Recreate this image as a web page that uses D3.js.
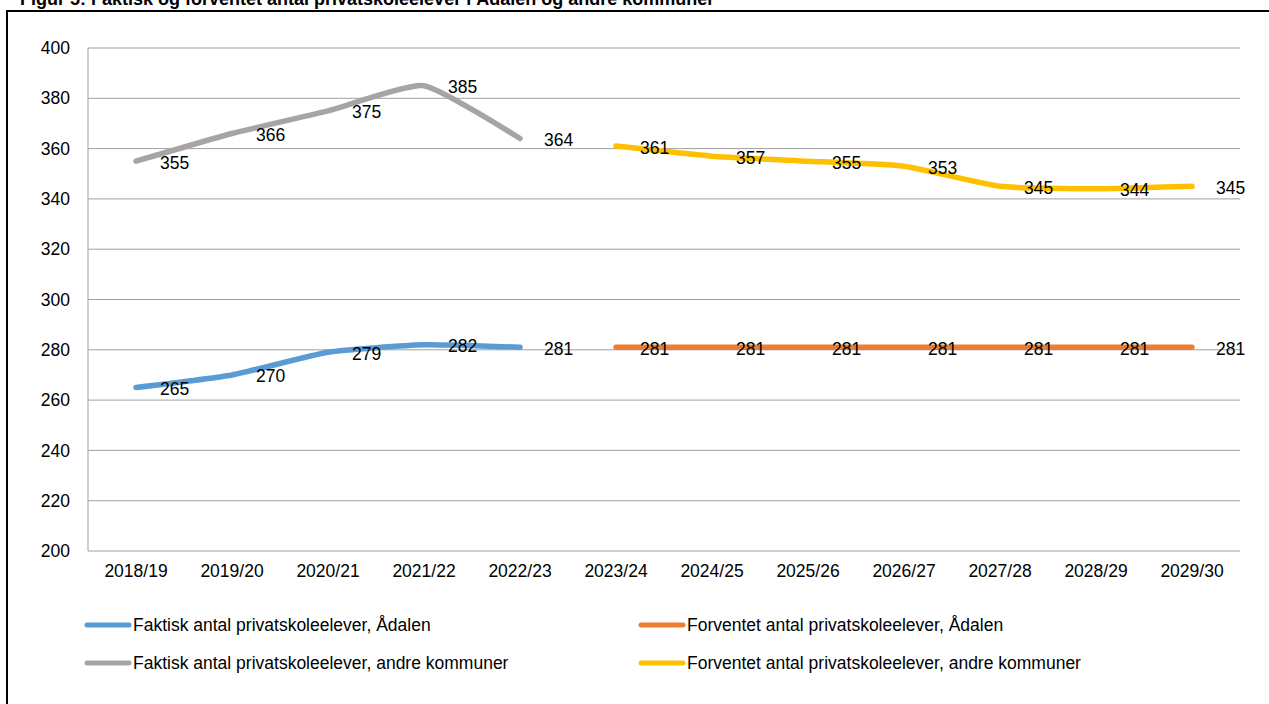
<!DOCTYPE html>
<html>
<head>
<meta charset="utf-8">
<script src="https://cdn.jsdelivr.net/npm/d3@7"></script>
<style>
  html, body { margin: 0; padding: 0; background: #fff; }
  svg { display: block; font-family: "Liberation Sans", Arial, sans-serif; }
</style>
</head>
<body>
<svg id="chart" width="1269" height="704"></svg>
<script>
const title = "Figur 5: Faktisk og forventet antal privatskoleelever i Ådalen og andre kommuner";
const categories = ["2018/19","2019/20","2020/21","2021/22","2022/23","2023/24","2024/25","2025/26","2026/27","2027/28","2028/29","2029/30"];
const yTicks = [200,220,240,260,280,300,320,340,360,380,400];
const faktiskAadalen = [265,270,279,282,281,null,null,null,null,null,null,null];
const forventetAadalen = [null,null,null,null,null,281,281,281,281,281,281,281];
const faktiskAndre = [355,366,375,385,364,null,null,null,null,null,null,null];
const forventetAndre = [null,null,null,null,null,361,357,355,353,345,344,345];
const series = [
  {name:"Faktisk antal privatskoleelever, Ådalen", values: faktiskAadalen, color:"#5b9bd5", smooth:true},
  {name:"Forventet antal privatskoleelever, Ådalen", values: forventetAadalen, color:"#ed7d31", smooth:false},
  {name:"Faktisk antal privatskoleelever, andre kommuner", values: faktiskAndre, color:"#a5a5a5", smooth:true},
  {name:"Forventet antal privatskoleelever, andre kommuner", values: forventetAndre, color:"#ffc000", smooth:true}
];

const FS = 17.5;
const svg = d3.select("#chart");
const m = {left:88, right:1240, top:48, bottom:551};

// title (mostly cut off at the top in the reference)
svg.append("text").attr("x", 20).attr("y", 5)
  .attr("font-weight", "bold").attr("font-size", 18).attr("fill", "#000")
  .text(title);

// outer border
svg.append("rect").attr("x", 7).attr("y", 11).attr("width", 1300).attr("height", 800)
  .attr("fill", "none").attr("stroke", "#000").attr("stroke-width", 2);

const x = d3.scaleBand().domain(categories).range([m.left, m.right]);
const cx = c => x(c) + x.bandwidth()/2;
const y = d3.scaleLinear().domain([200,400]).range([m.bottom, m.top]);

// gridlines
svg.append("g").selectAll("line").data(yTicks).join("line")
  .attr("x1", m.left).attr("x2", m.right)
  .attr("y1", d => y(d)).attr("y2", d => y(d))
  .attr("stroke", "#a0a0a0").attr("stroke-width", 1);
svg.append("line").attr("x1", m.left).attr("x2", m.left).attr("y1", m.top).attr("y2", m.bottom)
  .attr("stroke", "#a0a0a0").attr("stroke-width", 1);

// y axis labels
const yAxis = d3.axisLeft(y).tickValues(yTicks).tickSize(0).tickPadding(18);
const gy = svg.append("g").attr("transform", `translate(${m.left},0)`).call(yAxis);
gy.select(".domain").remove();
gy.selectAll("text").attr("font-size", FS).attr("fill", "#000")
  .attr("font-family", "Liberation Sans, Arial, sans-serif");

// x axis labels
const xAxis = d3.axisBottom(x).tickSize(0).tickPadding(14);
const gx = svg.append("g").attr("transform", `translate(0,${m.bottom})`).call(xAxis);
gx.select(".domain").remove();
gx.selectAll("text").attr("font-size", FS).attr("fill", "#000")
  .attr("font-family", "Liberation Sans, Arial, sans-serif");

// lines
series.forEach(s => {
  const pts = categories.map((c,i) => ({c, v: s.values[i]})).filter(d => d.v !== null);
  const line = d3.line().x(d => cx(d.c)).y(d => y(d.v))
    .curve(s.smooth ? d3.curveCardinal.tension(0.5) : d3.curveLinear);
  svg.append("path").datum(pts).attr("d", line)
    .attr("fill", "none").attr("stroke", s.color).attr("stroke-width", 5.5)
    .attr("stroke-linecap", "round").attr("stroke-linejoin", "round");
});

// data labels (right of points)
series.forEach(s => {
  const pts = categories.map((c,i) => ({c, v: s.values[i]})).filter(d => d.v !== null);
  svg.append("g").selectAll("text").data(pts).join("text")
    .attr("x", d => cx(d.c) + 24)
    .attr("y", d => y(d.v) + 7.5)
    .attr("font-size", FS).attr("fill", "#000")
    .text(d => d.v);
});

// legend
const legendPos = [
  {x:85, y:625}, {x:639, y:625}, {x:85, y:663}, {x:639, y:663}
];
series.forEach((s,i) => {
  const p = legendPos[i];
  svg.append("line").attr("x1", p.x + 2).attr("x2", p.x + 44).attr("y1", p.y).attr("y2", p.y)
    .attr("stroke", s.color).attr("stroke-width", 5).attr("stroke-linecap", "round");
  svg.append("text").attr("x", p.x + 48).attr("y", p.y + 6)
    .attr("font-size", FS).attr("fill", "#000").text(s.name);
});
</script>
</body>
</html>
